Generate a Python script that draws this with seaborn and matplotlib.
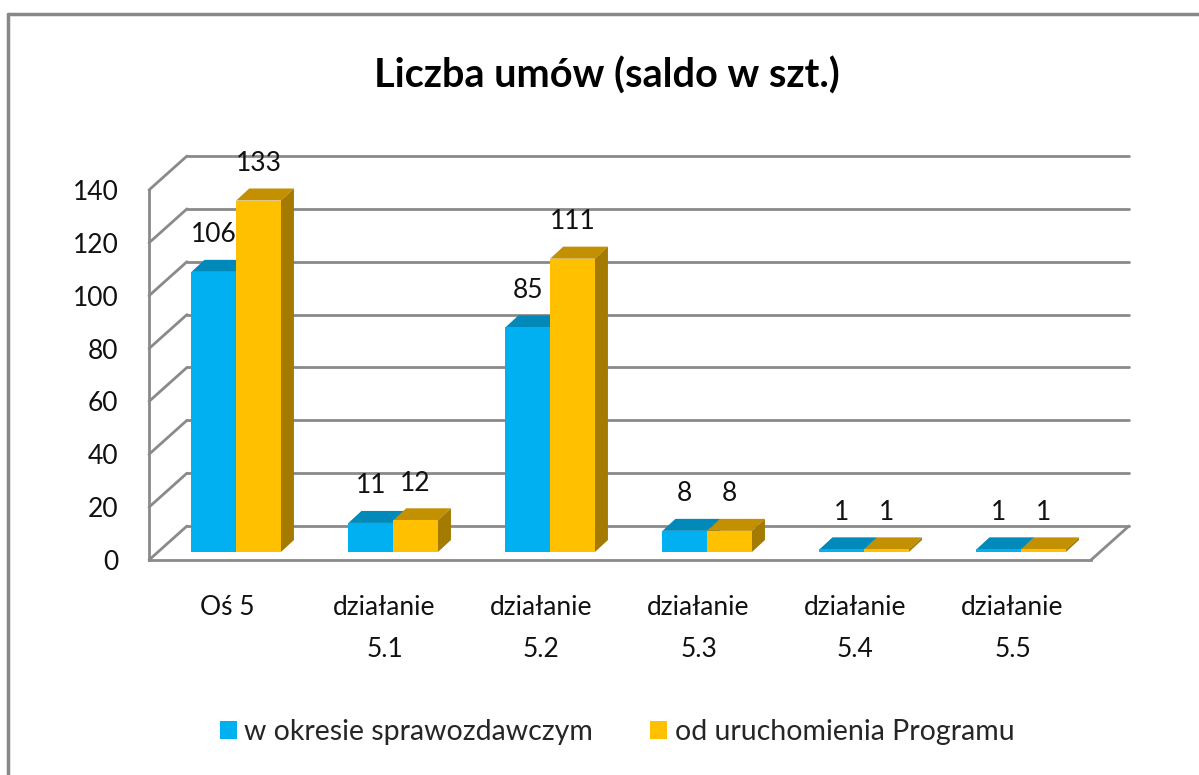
import matplotlib
matplotlib.use("Agg")
import matplotlib.pyplot as plt
from matplotlib.patches import Polygon, Patch
from matplotlib.lines import Line2D
import seaborn as sns
import pandas as pd

# -----------------------------
# Dane
# -----------------------------
kategorie = ["Oś 5", "działanie\n5.1", "działanie\n5.2", "działanie\n5.3", "działanie\n5.4", "działanie\n5.5"]
w_okresie = [106, 11, 85, 8, 1, 1]
od_uruchomienia = [133, 12, 111, 8, 1, 1]
serie = ["w okresie sprawozdawczym", "od uruchomienia Programu"]
y_ticks = [0, 20, 40, 60, 80, 100, 120, 140]

df = pd.DataFrame({
    "kategoria": kategorie * 2,
    "wartosc": w_okresie + od_uruchomienia,
    "seria": [serie[0]] * len(kategorie) + [serie[1]] * len(kategorie),
})

front = {serie[0]: "#00B0F0", serie[1]: "#FFC000"}
top = {serie[0]: "#0089B9", serie[1]: "#C29000"}
side = {serie[0]: "#0077A0", serie[1]: "#A47A00"}
GRID = "#8a8a8a"

sns.set_style("white")
plt.rcParams["font.family"] = ["Lato", "DejaVu Sans"]

W, H = 1199, 775
fig = plt.figure(figsize=(W / 100, H / 100), dpi=100)

# położenie osi w pikselach (przednia płaszczyzna)
AX_L, AX_R, AX_B, AX_T = 149, 1091, 560, 190
ax = fig.add_axes([AX_L / W, 1 - AX_B / H, (AX_R - AX_L) / W, (AX_B - AX_T) / H])

sns.barplot(data=df, x="kategoria", y="wartosc", hue="seria", hue_order=serie,
            palette=front, saturation=1, width=0.57, gap=0, legend=False,
            edgecolor="none", ax=ax, zorder=3)
ax.set_xlim(-0.5, 5.5)
ax.set_ylim(0, 140)

kx = (AX_R - AX_L) / 6.0
ky = (AX_B - AX_T) / 140.0


def px(dx, dy):
    return dx / kx, dy / ky


# -----------------------------
# Ściany i siatka (efekt 3D)
# -----------------------------
Dx, Dy = px(38, 34)
for v in y_ticks:
    ax.add_line(Line2D([-0.5 + Dx, 5.5 + Dx], [v + Dy, v + Dy], color=GRID, lw=2,
                       clip_on=False, zorder=1))
    ax.add_line(Line2D([-0.5, -0.5 + Dx], [v, v + Dy], color=GRID, lw=2,
                       clip_on=False, zorder=1))
ax.add_line(Line2D([5.5, 5.5 + Dx], [0, Dy], color=GRID, lw=2, clip_on=False, zorder=1))

# -----------------------------
# Słupki: przesunięcie w głąb + górna i boczna ściana
# -----------------------------
ox, oy = px(8.7, 8)
tx, ty = px(13, 12)
for nazwa, cont in zip(serie, ax.containers):
    for bar in cont:
        x0 = bar.get_x() + ox
        w = bar.get_width()
        h = bar.get_height()
        bar.set_x(x0)
        bar.set_y(oy)
        y1 = oy + h
        ax.add_patch(Polygon([(x0, y1), (x0 + w, y1), (x0 + w + tx, y1 + ty), (x0 + tx, y1 + ty)],
                             closed=True, facecolor=top[nazwa], edgecolor="none",
                             zorder=2, clip_on=False))
        ax.add_patch(Polygon([(x0 + w, oy), (x0 + w, y1), (x0 + w + tx, y1 + ty), (x0 + w + tx, oy + ty)],
                             closed=True, facecolor=side[nazwa], edgecolor="none",
                             zorder=2, clip_on=False))
        ax.text(x0 + w / 2, y1 + 37 / ky, f"{h:.0f}", ha="center", va="center",
                fontsize=19, color="#111111", zorder=5, clip_on=False)

# -----------------------------
# Osie
# -----------------------------
for s in ["top", "right"]:
    ax.spines[s].set_visible(False)
for s in ["left", "bottom"]:
    ax.spines[s].set_color(GRID)
    ax.spines[s].set_linewidth(2)
ax.set_yticks(y_ticks)
ax.set_xticks(range(len(kategorie)))
ax.set_xticklabels(kategorie, linespacing=1.85)
ax.set_xticks([i - 0.5 for i in range(len(kategorie) + 1)], minor=True)
ax.tick_params(axis="y", length=8, width=2, color=GRID, pad=14, labelsize=19, labelcolor="#111111")
ax.tick_params(axis="x", which="major", length=0, pad=25, labelsize=19, labelcolor="#111111")
ax.tick_params(axis="x", which="minor", length=8, width=2, color=GRID)
ax.set_xlabel("")
ax.set_ylabel("")
ax.grid(False)

# -----------------------------
# Tytuł, legenda, ramka
# -----------------------------
fig.text(607 / W, 1 - 76 / H, "Liczba umów (saldo w szt.)", ha="center", va="center",
         fontsize=28.5, fontweight="bold", color="black")

uchwyty = [Patch(facecolor=front[s], edgecolor="none", label=s) for s in serie]
fig.legend(handles=uchwyty, loc="center", bbox_to_anchor=(617 / W, 1 - 732 / H), ncol=2,
           frameon=False, fontsize=20.5, handlelength=0.6, handleheight=0.6,
           handletextpad=0.27, columnspacing=2.0)

fig.add_artist(Line2D([8 / W, 8 / W], [0, 1 - 14 / H], color="#888888", lw=2.5))
fig.add_artist(Line2D([8 / W, 1], [1 - 14 / H, 1 - 14 / H], color="#888888", lw=2.5))

fig.savefig("out.png", dpi=100)
